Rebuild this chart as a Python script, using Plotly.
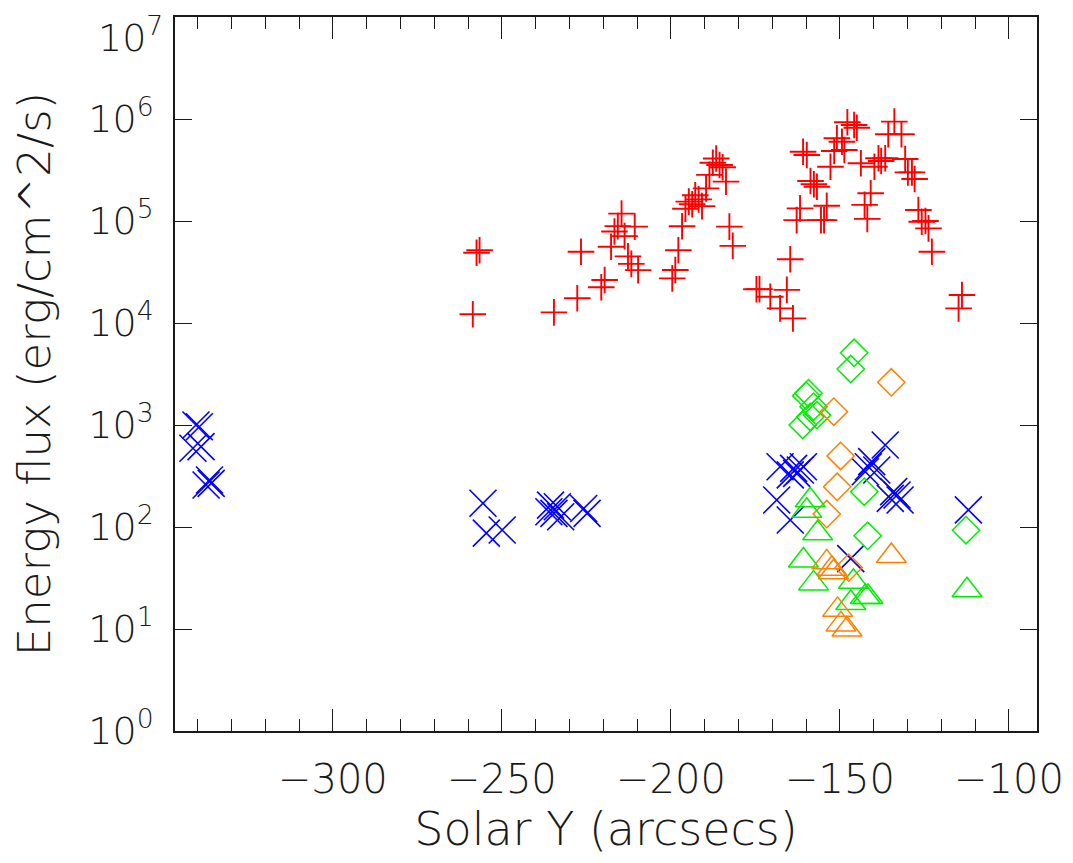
import plotly.graph_objects as go

# ---- data ----
red_x = [-257.5, -256.6, -258.6, -234.6, -227.7, -226.6, -220.6, -219.6,
         -214.6, -216.7, -215.7, -210.7, -213.7, -217.7, -212.7, -211.7, -209.7,
         -196.7, -197.8, -198.7, -199.6,
         -195.7, -194.7, -193.7, -192.8, -191.8, -190.8, -189.6, -188.6, -187.6,
         -186.6, -185.6, -184.7, -183.7, -182.7, -181.7, -174.7,
         -145.8, -147.8, -145.0, -133.9, -135.7, -131.8, -150.9, -149.4, -148.7,
         -151.7, -152.8, -143.8, -160.9, -159.8, -158.7, -157.7, -156.8, -161.8,
         -162.8, -153.9, -155.6, -154.7, -140.9, -142.7, -141.9, -138.6, -137.8,
         -139.8, -136.6, -130.7, -129.9, -128.7, -127.9, -126.8, -125.8, -124.7,
         -123.8, -122.8, -164.7, -165.7, -173.8, -170.6, -167.7, -163.9, -113.9,
         -114.9]
red_y = [4.89e4, 5.16e4, 1.22e4, 1.27e4, 1.75e4, 5.0e4, 2.24e4, 2.64e4,
         1.18e5, 7.9e4, 8.9e4, 8.8e4, 7.1e4, 5.6e4, 4.5e4, 3.8e4, 3.3e4,
         8.87e4, 5.16e4, 3.31e4, 2.74e4,
         1.32e5, 1.55e5, 1.46e5, 1.79e5, 1.63e5, 1.40e5, 2.09e5, 2.83e5, 3.73e5,
         4.1e5, 3.54e5, 3.36e5, 2.43e5, 8.8e4, 5.7e4, 2.14e4,
         8.73e5, 9.29e5, 8.22e5, 9.42e5, 7.08e5, 7.08e5, 6.47e5, 5.98e5, 4.97e5,
         4.85e5, 3.40e5, 3.68e5, 4.78e5, 4.44e5, 2.47e5, 2.29e5, 2.17e5, 1.33e5,
         1.02e5, 1.41e5, 1.02e5, 1.02e5, 1.87e5, 1.44e5, 1.05e5, 4.12e5, 3.87e5,
         3.40e5, 4.12e5, 4.06e5, 3.0e5, 3.0e5, 2.58e5, 1.28e5, 9.84e4, 1.0e5,
         8.47e4, 5.0e4, 4.22e4, 2.11e4, 2.15e4, 1.81e4, 1.39e4, 1.11e4, 1.88e4,
         1.39e4]

blue_x = [-340.5, -339.5, -341.4, -339.0, -336.5, -336.0, -337.5,
          -255.6, -254.6, -249.9,
          -235.6, -233.6, -234.6, -232.6, -236.1, -225.8, -224.8,
          -167.7, -163.7, -161.7, -160.8, -164.7, -162.8, -168.7, -164.7,
          -136.6, -140.6, -141.6, -142.5, -139.1, -134.1, -133.1, -135.1, -132.2,
          -112.0, -146.8]
blue_y = [1000, 962, 591, 613, 289, 268, 258,
          171, 87, 93.5,
          164, 158, 136, 126, 141, 152, 136,
          390, 376, 362, 390, 324, 336, 184, 117,
          637, 437, 390, 348, 362, 222, 206, 191, 184,
          147, 49]

gdia_x = [-145.8, -146.8, -159.3, -160.0, -157.8, -156.8, -161.0, -158.8,
          -142.8, -141.8, -112.7]
gdia_y = [5100, 3540, 2050, 1940, 1510, 1250, 1000, 1200, 222, 82, 93]

odia_x = [-134.8, -151.8, -149.8, -150.8, -153.9, -147.4]
odia_y = [2620, 1350, 497, 248, 134, 40]

gtri_x = [-158.8, -159.8, -156.6, -160.8, -157.8, -146.0, -146.8, -142.5,
          -141.7, -112.4]
gtri_y = [183, 144, 87, 47, 28, 29, 18, 20.6, 20.6, 24]

otri_x = [-134.8, -153.9, -151.9, -152.4, -150.7, -149.7, -147.9]
otri_y = [52, 45, 36, 39, 15.4, 11.1, 9.9]

y_tickvals = [1, 10, 100, 1e3, 1e4, 1e5, 1e6, 1e7]
y_ticktext = ["10<sup>%d</sup>" % i for i in range(7)] + [""]
y_top_label = "10<sup>7</sup>"

x_title = "Solar Y (arcsecs)"
y_title = "Energy flux (erg/cm^2/s)"

# ---- figure ----
FONT = "DejaVu Sans"
WEIGHT = 200
INK = "#1a1a1a"


def fnt(size):
    return dict(size=size, family=FONT, color=INK, weight=WEIGHT)


fig = go.Figure()


def add(xs, ys, symbol, size, color, width):
    fig.add_trace(go.Scatter(
        x=xs, y=ys, mode="markers",
        marker=dict(symbol=symbol, size=size, color=color,
                    line=dict(color=color, width=width)),
        showlegend=False, hoverinfo="x+y"))


add(red_x, red_y, "cross-thin-open", 19, "#ff0000", 1.9)
add(blue_x, blue_y, "x-thin-open", 27, "#0000ff", 1.6)
add(gdia_x, gdia_y, "diamond-open", 21, "#00ee00", 1.5)
add(odia_x, odia_y, "diamond-open", 21, "#ff8000", 1.5)
add(gtri_x, gtri_y, "triangle-up-open", 26, "#00ee00", 1.5)
add(otri_x, otri_y, "triangle-up-open", 26, "#ff8000", 1.5)

# the page body adds an 8px offset, so the figure is 8px smaller on each side
fig.update_layout(
    width=1065, height=855,
    margin=dict(l=167, r=36, t=9, b=132),
    paper_bgcolor="white", plot_bgcolor="white",
    font=fnt(20),
    showlegend=False,
)

fig.update_xaxes(
    range=[-346.7, -91.7], automargin=False,
    showgrid=False, zeroline=False,
    showline=True, linecolor=INK, linewidth=1.5, mirror="ticks",
    ticks="inside", ticklen=22, tickwidth=1.3, tickcolor=INK,
    tick0=-300, dtick=50,
    minor=dict(ticks="inside", ticklen=12, tickwidth=1.3, tickcolor=INK,
               dtick=10, tick0=-300, showgrid=False),
    tickfont=fnt(40),
    ticklabelstandoff=12,
    title=dict(text=x_title, font=fnt(46), standoff=9),
)

fig.update_yaxes(
    type="log", range=[0, 7], automargin=False,
    showgrid=False, zeroline=False,
    showline=True, linecolor=INK, linewidth=1.5, mirror="ticks",
    ticks="inside", ticklen=17, tickwidth=1.3, tickcolor=INK,
    tickmode="array", tickvals=y_tickvals, ticktext=y_ticktext,
    tickfont=fnt(38),
    ticklabelstandoff=12,
    title=dict(text=y_title, font=fnt(45), standoff=26),
)

fig.add_annotation(
    text=y_top_label, xref="paper", yref="paper", x=0, y=1,
    xanchor="right", yanchor="top", xshift=-10, yshift=9, showarrow=False,
    font=fnt(38))

fig.write_html("out.html")
